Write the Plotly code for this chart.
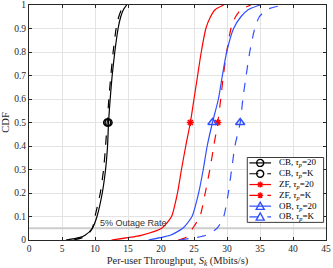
import plotly.graph_objects as go

# ---------------- data ----------------
cdf = [0, 0.01, 0.02, 0.05, 0.1, 0.2, 0.3, 0.4, 0.5, 0.6, 0.7, 0.8, 0.9, 0.95, 0.98, 1.0]

cb_20 = [5.6, 7.6, 8.5, 9.6, 10.3, 11.1, 11.6, 11.9, 12.05, 12.3, 12.6, 13.0, 13.5, 13.9, 14.3, 14.8]
cb_K = [6.8, 8.1, 8.8, 9.6, 10.0, 10.8, 11.3, 11.6, 11.85, 12.1, 12.4, 12.75, 13.2, 13.6, 14.0, 14.5]
zf_20 = [12.5, 15.0, 17.0, 20.1, 21.6, 22.5, 23.1, 23.75, 24.45, 25.0, 25.55, 26.1, 26.8, 27.5, 28.2, 29.5]
zf_K = [22.6, 23.7, 24.1, 24.8, 25.9, 26.7, 27.4, 28.0, 28.6, 29.05, 29.45, 29.95, 30.6, 31.3, 32.1, 33.6]
ob_20 = [18.1, 19.9, 21.4, 23.3, 24.7, 25.7, 26.4, 27.0, 27.8, 28.7, 29.3, 29.95, 31.0, 32.1, 33.2, 35.0]
ob_K = [22.8, 25.2, 26.8, 28.5, 29.5, 30.2, 30.7, 31.2, 32.0, 32.4, 32.9, 33.45, 34.2, 34.9, 36.0, 38.5]

series_names = ["CB, <i>τ</i><sub><i>p</i></sub>=20", "CB, <i>τ</i><sub><i>p</i></sub>=K",
                "ZF, <i>τ</i><sub><i>p</i></sub>=20", "ZF, <i>τ</i><sub><i>p</i></sub>=K",
                "OB, <i>τ</i><sub><i>p</i></sub>=20", "OB, <i>τ</i><sub><i>p</i></sub>=K"]
series_values = [cb_20, cb_K, zf_20, zf_K, ob_20, ob_K]

outage_level = 0.05
outage_label = "5% Outage Rate"
x_range = [0, 45]
x_ticks = list(range(0, 46, 5))
y_ticks = [round(i * 0.1, 1) for i in range(11)]

# ---------------- styles ----------------
BLUE = "#3050FF"
RED = "#FF0000"
styles = [
    dict(color="black", dash="solid", symbol="circle-open", size=7),
    dict(color="black", dash="dash", symbol="circle-open", size=7),
    dict(color=RED, dash="solid", symbol="asterisk-open", size=6),
    dict(color=RED, dash="dash", symbol="asterisk-open", size=6),
    dict(color=BLUE, dash="solid", symbol="triangle-up-open", size=8),
    dict(color=BLUE, dash="dash", symbol="triangle-up-open", size=8),
]
SERIF = "Liberation Serif"
AXC = "#262626"

W, H = 333, 268
ML, MR, MT, MB = 29, 7, 5, 28
PW, PH = W - ML - MR, H - MT - MB

fig = go.Figure()

# outage line
fig.add_trace(go.Scatter(x=x_range, y=[outage_level, outage_level], mode="lines",
                         line=dict(color="#CDCDCD", width=2.2), showlegend=False, hoverinfo="skip"))

med_idx = cdf.index(0.5)
for name, vals, st in zip(series_names, series_values, styles):
    fig.add_trace(go.Scatter(x=vals, y=cdf, mode="lines", showlegend=False,
                             line=dict(color=st["color"], dash=st["dash"], width=1.2,
                                       shape="spline", smoothing=0.6)))
    fig.add_trace(go.Scatter(x=[vals[med_idx]], y=[cdf[med_idx]], mode="markers", showlegend=False,
                             marker=dict(symbol=st["symbol"], size=st["size"], color=st["color"],
                                         line=dict(color=st["color"], width=1.5))))

# ---------------- manual legend (layout positions in paper units) ----------------
lx0, lx1, ly0, ly1 = 0.735, 0.992, 0.075, 0.351
row_h = (ly1 - ly0) / len(series_names)
shapes = [dict(type="rect", xref="paper", yref="paper", x0=lx0, x1=lx1, y0=ly0, y1=ly1,
               fillcolor="white", line=dict(color=AXC, width=0.9), layer="above")]


def marker_shape(kind, cx, cy, size, color):
    rx = size / 2 / PW
    ry = size / 2 / PH
    base = dict(xref="paper", yref="paper", layer="above", line=dict(color=color, width=1.4))
    if kind.startswith("circle"):
        return [dict(type="circle", x0=cx - rx, x1=cx + rx, y0=cy - ry, y1=cy + ry,
                     fillcolor="rgba(0,0,0,0)", **base)]
    if kind.startswith("triangle"):
        p = f"M {cx - rx},{cy - ry * 0.8} L {cx + rx},{cy - ry * 0.8} L {cx},{cy + ry} Z"
        return [dict(type="path", path=p, fillcolor="rgba(0,0,0,0)", **base)]
    d = 0.707
    p = (f"M {cx - rx},{cy} L {cx + rx},{cy} M {cx},{cy - ry} L {cx},{cy + ry} "
         f"M {cx - rx * d},{cy - ry * d} L {cx + rx * d},{cy + ry * d} "
         f"M {cx - rx * d},{cy + ry * d} L {cx + rx * d},{cy - ry * d}")
    return [dict(type="path", path=p, **base)]


for i, (name, st) in enumerate(zip(series_names, styles)):
    yc = ly1 - (i + 0.5) * row_h
    shapes.append(dict(type="line", xref="paper", yref="paper", x0=0.742, x1=0.815, y0=yc, y1=yc,
                       line=dict(color=st["color"], dash=st["dash"], width=1.2), layer="above"))
    shapes += marker_shape(st["symbol"], 0.7785, yc, st["size"], st["color"])
    fig.add_annotation(x=0.835, y=yc, xref="paper", yref="paper", text=name, showarrow=False,
                       xanchor="left", yanchor="middle", font=dict(family=SERIF, size=9, color="black"))

# outage text
fig.add_annotation(x=10.5, y=0.071, xref="x", yref="y", text=outage_label, showarrow=False,
                   xanchor="left", yanchor="middle",
                   font=dict(family="Liberation Sans", size=9, color="#333333"))

axis_common = dict(showgrid=True, gridcolor="#E3E3E3", gridwidth=1, zeroline=False,
                   showline=True, linecolor=AXC, linewidth=1, mirror="ticks",
                   ticks="inside", ticklen=3, tickcolor=AXC,
                   tickfont=dict(family=SERIF, size=9.5, color=AXC))

fig.update_layout(
    width=W, height=H,
    margin=dict(l=ML, r=MR, t=MT, b=MB, autoexpand=False),
    plot_bgcolor="white", paper_bgcolor="white",
    showlegend=False,
    shapes=shapes,
    xaxis=dict(range=x_range, tickvals=x_ticks, **axis_common,
               title=dict(text="Per-user Throughput, <i>S</i><sub><i>k</i></sub> (Mbits/s)",
                          font=dict(family=SERIF, size=10.5, color=AXC), standoff=4)),
    yaxis=dict(range=[0, 1], tickvals=y_ticks, **axis_common,
               title=dict(text="CDF", font=dict(family=SERIF, size=10.5, color=AXC), standoff=4)),
)

fig.write_html("out.html", config={"displayModeBar": False},
               post_script="document.body.style.margin='0';document.body.style.overflow='hidden';")
